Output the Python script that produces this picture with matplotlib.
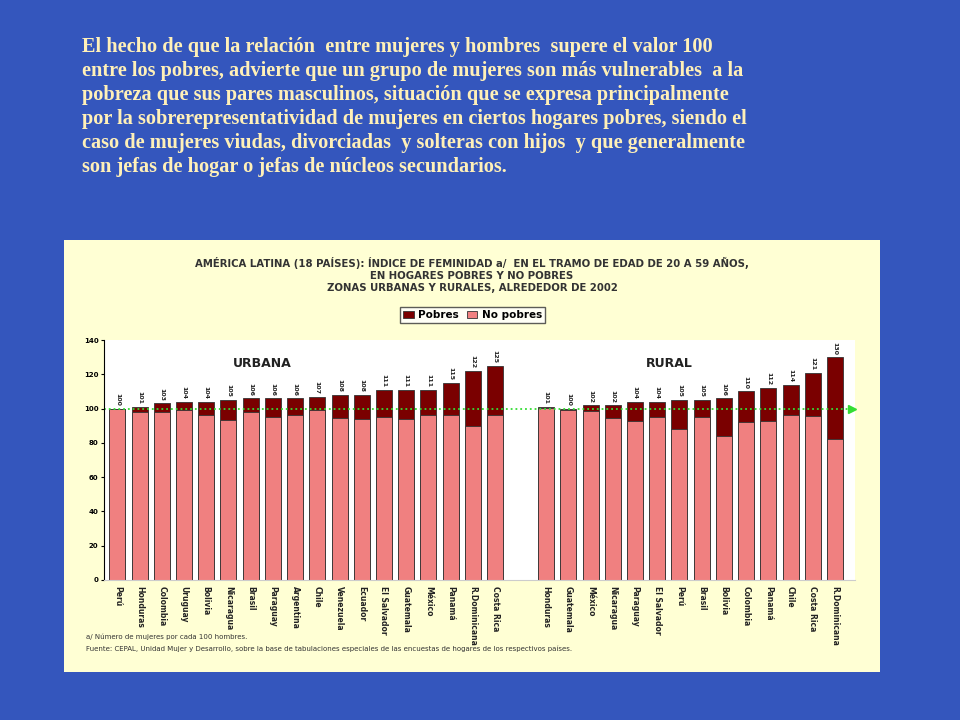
import matplotlib.pyplot as plt
import numpy as np

urb_paises = ['Perú', 'Honduras', 'Colombia', 'Uruguay', 'Bolivia', 'Nicaragua', 'Brasil',
              'Paraguay', 'Argentina', 'Chile', 'Venezuela', 'Ecuador', 'El Salvador',
              'Guatemala', 'México', 'Panamá', 'R.Dominicana', 'Costa Rica']
urb_pobres = [100, 101, 103, 104, 104, 105, 106, 106, 106, 107, 108, 108, 111, 111, 111, 115, 122, 125]
urb_no_pobres = [100, 98, 98, 99, 96.5, 93.5, 98, 95, 96, 99, 94.5, 94, 95, 94, 96.5, 96.5, 90, 96.5]

rur_paises = ['Honduras', 'Guatemala', 'México', 'Nicaragua', 'Paraguay', 'El Salvador', 'Perú',
              'Brasil', 'Bolivia', 'Colombia', 'Panamá', 'Chile', 'Costa Rica', 'R.Dominicana']
rur_pobres = [101, 100, 102, 102, 104, 104, 105, 105, 106, 110, 112, 114, 121, 130]
rur_no_pobres = [100.5, 99, 98.5, 94.5, 93, 95, 88, 95, 84, 92, 92.5, 96.5, 95.5, 82.5]

texto = ("El hecho de que la relación  entre mujeres y hombres  supere el valor 100\n"
         "entre los pobres, advierte que un grupo de mujeres son más vulnerables  a la\n"
         "pobreza que sus pares masculinos, situación que se expresa principalmente\n"
         "por la sobrerepresentatividad de mujeres en ciertos hogares pobres, siendo el\n"
         "caso de mujeres viudas, divorciadas  y solteras con hijos  y que generalmente\n"
         "son jefas de hogar o jefas de núcleos secundarios.")

W, H = 960, 720
fig = plt.figure(figsize=(9.6, 7.2), dpi=100, facecolor='#3456bd')
fig.text(82 / W, 1 - 37 / H, texto, color='#fff0b8', fontsize=14.6, family='Liberation Serif',
         fontweight='bold', va='top', ha='left', linespacing=1.27)

# pale yellow panel
panel = fig.add_axes([64 / W, 1 - 672 / H, 816 / W, 432 / H])
panel.set_facecolor('#ffffd4')
panel.set_xticks([]); panel.set_yticks([])
for s in panel.spines.values():
    s.set_visible(False)
tit = ("AMÉRICA LATINA (18 PAÍSES): ÍNDICE DE FEMINIDAD a/  EN EL TRAMO DE EDAD DE 20 A 59 AÑOS,\n"
       "EN HOGARES POBRES Y NO POBRES\nZONAS URBANAS Y RURALES, ALREDEDOR DE 2002")
panel.text(0.5, 1 - 17 / 432, tit, ha='center', va='top', fontsize=7.3, fontweight='bold',
           color='#333333', linespacing=1.25, transform=panel.transAxes)
panel.text(0.027, 1 - 397 / 432, 'a/ Número de mujeres por cada 100 hombres.', fontsize=5,
           color='#333333', transform=panel.transAxes, va='center')
panel.text(0.027, 1 - 409 / 432, 'Fuente: CEPAL, Unidad Mujer y Desarrollo, sobre la base de tabulaciones '
           'especiales de las encuestas de hogares de los respectivos países.', fontsize=5,
           color='#333333', transform=panel.transAxes, va='center')

ax = fig.add_axes([104 / W, 1 - 580 / H, 751 / W, 240 / H])
ax.set_facecolor('white')
x_u = np.arange(len(urb_paises))
x_r = np.arange(len(rur_paises)) + len(urb_paises) + 1.3
xs = np.concatenate([x_u, x_r])
pobres = urb_pobres + rur_pobres
no_pobres = urb_no_pobres + rur_no_pobres
nombres = urb_paises + rur_paises

b1 = ax.bar(xs, pobres, width=0.72, color='#7a0000', edgecolor='#333333', linewidth=0.6, label='Pobres')
b2 = ax.bar(xs, no_pobres, width=0.72, color='#f08080', edgecolor='#333333', linewidth=0.6, label='No pobres')
for x, v in zip(xs, pobres):
    ax.text(x, v + 1.5, str(v), rotation=270, ha='center', va='bottom', fontsize=4.5,
            fontweight='bold', color='#222222')
ax.axhline(100, color='#33dd33', linestyle=':', linewidth=1.3)
ax.plot([xs[-1] + 0.75], [100], marker='>', color='#33dd33', markersize=6, clip_on=False)

ax.set_ylim(0, 140)
ax.set_xlim(-0.6, xs[-1] + 0.9)
ax.set_yticks(range(0, 141, 20))
ax.tick_params(axis='y', labelsize=5, length=2, pad=2)
for lb in ax.get_yticklabels():
    lb.set_fontweight('bold')
ax.set_xticks(xs)
ax.set_xticklabels(nombres, rotation=270, fontsize=5.5, fontweight='bold', color='#222222')
ax.tick_params(axis='x', length=0, pad=4)
for s in ['top', 'right']:
    ax.spines[s].set_visible(False)
ax.spines['bottom'].set_color('#cccccc')
ax.text(5.2, 124, 'URBANA', fontsize=9, fontweight='bold', color='#222222')
ax.text(23.8, 124, 'RURAL', fontsize=9, fontweight='bold', color='#222222')

fig.legend(handles=[b1, b2], loc='center left', bbox_to_anchor=(395 / W, 1 - 315 / H), ncol=2,
           prop={'weight': 'bold', 'size': 7.5}, frameon=True, fancybox=False,
           edgecolor='#333333', handlelength=1, handletextpad=0.4, columnspacing=0.8,
           borderpad=0.3)

fig.savefig('out.png', dpi=100, facecolor=fig.get_facecolor())
